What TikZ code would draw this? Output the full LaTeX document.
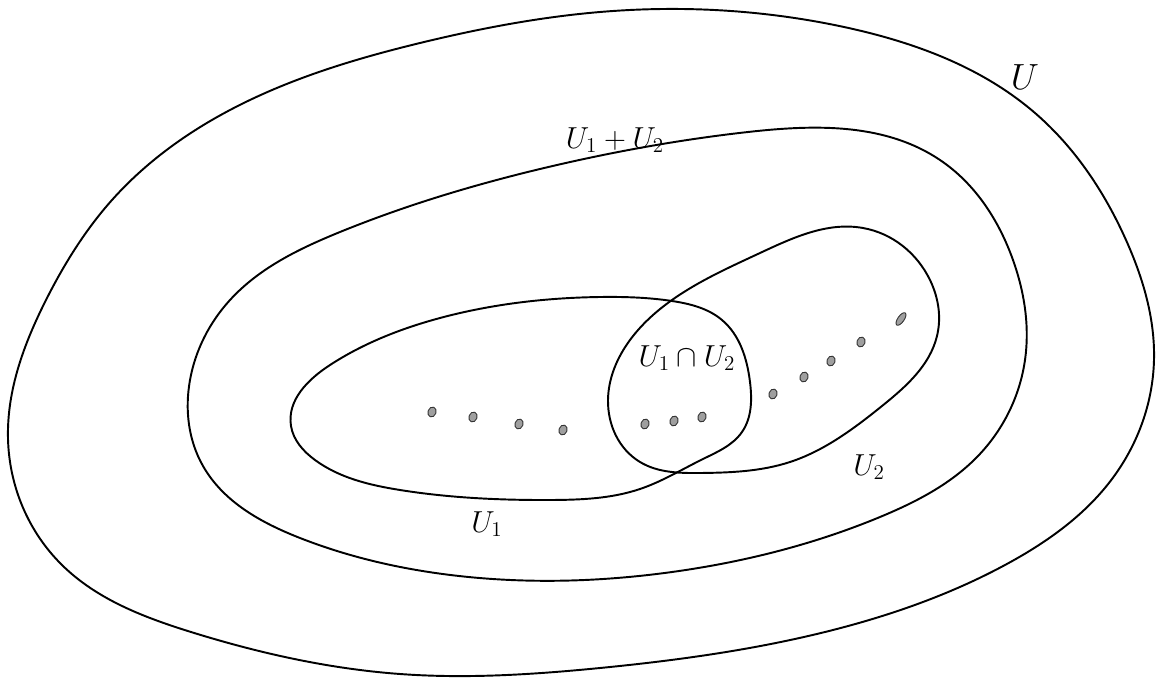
\documentclass[tikz,border=0pt]{standalone}
\usepackage{amsmath}
\usepackage{tikz}
\usetikzlibrary{hobby}
\tikzset{blob/.style={draw,line width=1.1pt},
         dot/.style={fill=gray!75,draw=black!80,line width=0.5pt},
         lbl/.style={font=\fontsize{17}{20}\selectfont}}

\begin{document}
\begin{tikzpicture}[x=0.02cm,y=-0.02cm]
\useasboundingbox (0,0) rectangle (1157,679);
% outer space U
\draw[blob] plot[closed hobby] coordinates {(600,12) (844,27) (1035,113) (1126,240) (1154,360) (1112,479) (1005,565) (825,632) (600,668) (400,674) (191,632) (62,565) (8,439) (46,300) (112,200) (230,110) (420,43)};
% sum U1+U2
\draw[blob] plot[closed hobby] coordinates {(557,165) (748,132) (940,160) (1013,260) (1025,360) (978,456) (880,517) (672,572) (459,576) (300,538) (203,466) (190,380) (230,300) (340,232)};
% U1
\draw[blob] plot[closed hobby] coordinates {(291,426) (330,365) (440,318) (600,297) (672,301) (722,320) (750,382) (742,432) (703,459) (640,489) (550,500) (400,490) (315,460)};
% U2
\draw[blob] plot[closed hobby] coordinates {(672,300) (760,253) (863,228) (930,280) (937,336) (882,406) (790,462) (700,473) (640,462) (608,400) (630,340)};
% points
\foreach \p in {(432,412),(473,417),(519,424),(563,430),(645,424),(674,421),(702,417),(773,394),(804,377),(831,361),(861,342)}
  \filldraw[dot,shift={\p},rotate=-20] (0,0) ellipse[x radius=2.3pt,y radius=2.9pt];
\filldraw[dot,shift={(901,319)},rotate=-35] (0,0) ellipse[x radius=1.8pt,y radius=4.2pt];
% labels
\node[lbl,font=\fontsize{20}{24}\selectfont] (lu) at (1025,77) {$U$};
\node[lbl] (lsum) at (615,140) {$U_1+U_2$};
\node[lbl] (lcap) at (687,358) {$U_1\cap U_2$};
\node[lbl] (lu2) at (869,467) {$U_2$};
\node[lbl] (lu1) at (487,524) {$U_1$};
\end{tikzpicture}
\end{document}
